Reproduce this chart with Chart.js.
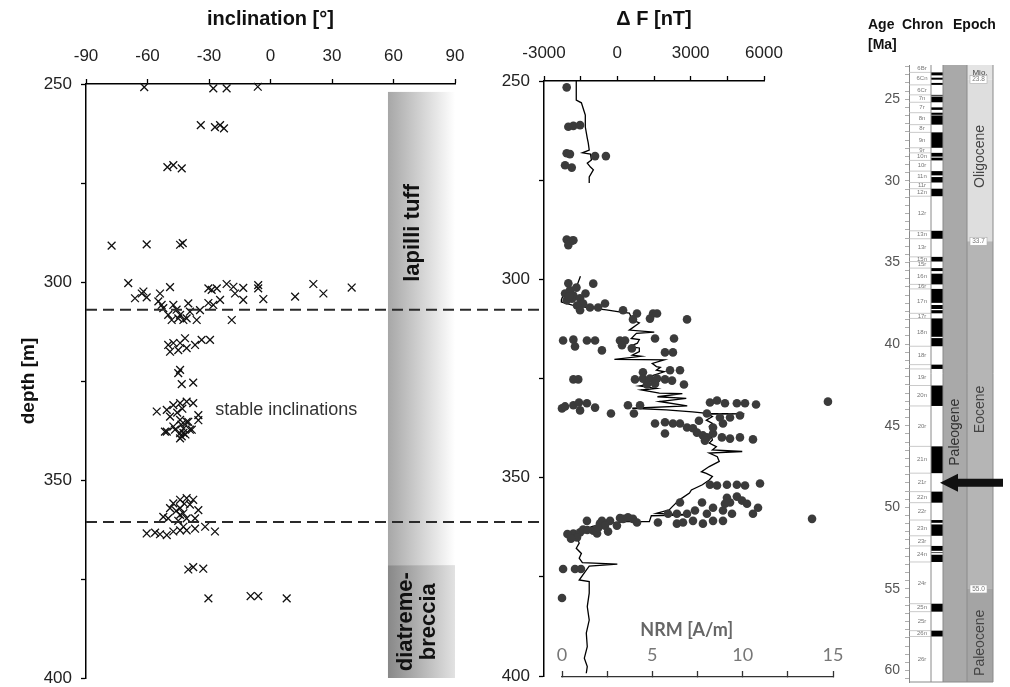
<!DOCTYPE html>
<html>
<head>
<meta charset="utf-8">
<title>Inclination, magnetics and timescale</title>
<script src="https://cdn.jsdelivr.net/npm/chart.js@4.4.1/dist/chart.umd.min.js"></script>
<style>
  body { margin: 0; background: #fff; }
  #wrap { position: relative; width: 1010px; height: 687px; overflow: hidden; background: #fff; }
  #wrap canvas { position: absolute; top: 0; }
  .hdr { position: absolute; font: bold 14px "Liberation Sans", Arial, sans-serif; color: #111; }
</style>
</head>
<body>
<div id="wrap">
  <canvas id="incChart" width="560" height="690" style="left:0"></canvas>
  <canvas id="dfChart" width="330" height="690" style="left:470px"></canvas>
  <canvas id="nrmChart" width="320" height="690" style="left:540px"></canvas>
  <canvas id="ageChart" width="150" height="690" style="left:860px"></canvas>
  <div class="hdr" style="left:868px;top:16px">Age</div>
  <div class="hdr" style="left:902px;top:16px">Chron</div>
  <div class="hdr" style="left:953px;top:16px">Epoch</div>
  <div class="hdr" style="left:868px;top:36px">[Ma]</div>
</div>
<script>
// --- inclination of samples (left panel) ---
const incDepth = [250.8, 251.1, 251.1, 250.7, 260.4, 260.9, 260.4, 261.2, 271.0, 270.5, 271.3,
  290.8, 290.5, 290.6, 290.2, 300.3, 304.1, 302.9, 303.9, 302.4, 302.9, 301.3, 304.9, 305.8,
  301.6, 302.0, 301.6, 300.5, 301.2, 302.9, 301.5, 304.5, 300.8, 301.6, 304.3, 303.7, 300.5,
  302.9, 301.4, 304.5, 305.8, 305.3, 307.1, 309.6, 305.8, 307.0, 308.3, 309.6, 309.6, 305.4,
  307.5, 309.6, 309.2, 309.2, 308.3, 306.6, 315.9, 315.4, 317.6, 317.2, 314.2, 316.7, 315.9,
  314.6, 314.6, 315.4, 322.2, 323.0, 325.8, 325.4, 332.7, 332.3, 331.1, 330.6, 330.2, 330.6,
  333.6, 334.0, 334.8, 335.3, 337.8, 337.3, 338.1, 337.3, 339.5, 337.8, 336.5, 338.2, 337.0,
  337.3, 335.3, 334.9, 339.0, 332.0, 333.0, 336.0, 338.5, 355.0, 354.6, 355.0, 355.9, 357.1,
  357.1, 356.2, 357.6, 359.3, 359.7, 358.8, 359.7, 359.7, 358.4, 356.0, 357.8, 360.3, 363.5,
  363.3, 363.7, 363.9, 363.0, 361.8, 362.7, 362.3, 361.8, 363.0, 362.7, 372.6, 372.0, 372.4,
  379.9, 379.3, 379.3, 379.9];
const incValue = [-61.6, -27.9, -21.4, -6.2, -34.0, -27.1, -24.6, -22.7, -50.3, -47.4, -43.3,
  -77.5, -60.4, -44.1, -42.8, -69.4, -66.1, -62.8, -60.4, -62.0, -53.9, -49.0, -54.7, -53.1,
  -30.3, -28.7, -26.2, -21.4, -18.1, -17.3, -13.3, -13.3, -6.0, -6.0, -3.5, 12.0, 20.9,
  25.8, 39.6, -24.6, -27.9, -30.3, -34.4, -18.9, -47.4, -45.8, -44.1, -48.2, -42.5, -40.1,
  -39.3, -36.0, -40.9, -45.0, -49.9, -52.3, -49.9, -47.4, -49.0, -45.0, -41.7, -40.9, -36.8,
  -33.6, -29.5, -44.1, -44.1, -45.0, -43.3, -37.7, -55.5, -50.6, -47.4, -44.1, -40.9, -37.7,
  -35.2, -49.0, -44.1, -40.1, -51.5, -46.6, -42.5, -39.3, -44.1, -50.6, -47.4, -44.1, -42.5,
  -38.4, -40.9, -35.2, -43.3, -43.0, -45.5, -43.5, -41.5, -44.1, -40.9, -37.7, -47.4, -49.0,
  -44.1, -39.3, -35.2, -52.3, -49.9, -44.1, -40.9, -36.8, -42.5, -42.0, -46.0, -45.0, -60.4,
  -56.3, -53.9, -50.6, -47.4, -42.5, -40.9, -36.8, -31.9, -27.1, -44.1, -40.1, -37.7, -32.8,
  -30.3, -9.7, -6.0, 7.9];

// --- borehole magnetic log ΔF (middle panel, line) ---
const dfDepth = [250.0, 254.8, 255.5, 257.8, 258.6, 261.6, 264.4, 265.6, 267.4, 268.1, 268.4,
  269.9, 270.7, 271.7, 272.4, 274.2, 275.7, 287.0,
  299.2, 301.4, 303.2, 305.2, 305.7, 306.5, 307.2, 307.7, 308.2, 308.5, 310.2, 311.0, 312.8,
  313.3, 313.6, 314.9, 315.2, 316.1, 317.0, 317.3, 318.2, 319.1, 319.4, 320.2, 320.3, 321.2,
  322.0, 322.2, 322.9, 323.3, 324.5, 325.4, 326.2, 326.9, 327.5, 327.9, 328.7, 328.8, 329.6,
  330.0, 330.8, 331.9, 332.5, 332.9, 333.4, 333.8, 333.9, 334.0, 334.6, 335.5, 336.3, 337.1,
  338.8, 339.6, 340.5, 341.3, 342.2, 343.0, 343.4, 343.8, 344.7, 345.9, 347.2, 348.5, 348.9,
  349.7, 350.6, 351.8, 353.1, 353.9, 355.6, 357.3, 358.1, 359.0, 359.4, 359.6, 361.1, 361.1,
  361.5, 362.3, 363.6, 364.4, 365.3, 366.5, 367.8, 369.1, 370.3, 371.4, 371.8, 372.3, 373.3,
  375.8, 376.2, 379.1, 382.5, 385.9, 389.2, 392.6, 395.5, 397.6, 399.3];
const dfValue = [-1680, -1680, -1470, -1350, -1310, -1310, -1230, -1190, -1150, -1430, -1100,
  -1060, -1230, -1100, -980, -1150, -1150, null,
  -1510, -1640, -2170, -2290, -2290, -1840, -1150, -450, 80, 490, 610, 900, 490,
  1510, 780, 570, 900, 820, 490, 900, 900, 610, 980, -120, 1920, 1430,
  1600, 1760, 1600, 1920, 1310, 1720, 1600, 900, 1600, 980, 1720, 2660, 1640,
  2820, 1720, 2860, 610, 2000, 3070, 3680, 5200, 3700, 3890, 3640, 3890, 3760,
  3890, 3850, 3890, 3760, 4050, 3890, 5110, 3760, 4090, 4170, 3760, 3440, 3640,
  3890, 3760, 3480, 3030, 2950, 2540, 2250, 2130, 1600, 2950, 1390, 1310, 370,
  -450, -1020, -1560, -1680, -1640, -1560, -1680, -1470, -1560, -1430, 0, -1150, -1270,
  -1560, -1150, -1150, -1230, -1150, -1270, -1230, -1350, -1230, -1270];

// --- NRM intensity of samples (middle panel, dots) ---
const nrmDepth = [251.6, 261.5, 261.3, 261.1, 268.2, 268.4, 268.9, 268.9, 271.2, 271.8, 289.9,
  290.2, 291.3, 290.1, 300.9, 302.7, 303.5, 304.0, 304.8, 305.2, 304.7, 306.0, 301.0, 306.5,
  307.0, 307.7, 307.0, 306.0, 307.7, 308.5, 310.0, 308.5, 309.8, 308.5, 310.0, 302.0, 303.5,
  304.2, 315.3, 315.1, 316.8, 315.3, 315.3, 317.8, 315.3, 315.3, 316.5, 317.3, 314.8, 318.3,
  318.3, 314.8, 323.3, 322.8, 322.8, 325.1, 325.1, 325.1, 324.9, 324.9, 324.9, 325.1, 325.4,
  326.4, 326.2, 326.4, 332.4, 331.9, 331.6, 330.9, 331.1, 332.9, 332.2, 333.7, 331.6, 333.7,
  331.6, 330.9, 330.4, 331.1, 331.1, 331.1, 331.4, 330.7, 333.7, 334.7, 334.7, 334.2, 336.2,
  335.9, 336.2, 336.2, 337.2, 338.7, 337.4, 338.5, 339.2, 339.7, 338.7, 339.7, 340.0, 339.7,
  340.2, 340.5, 337.2, 335.5, 336.2, 351.6, 351.8, 351.6, 351.6, 351.8, 351.3, 354.9, 354.6,
  355.6, 356.1, 357.4, 358.9, 358.9, 358.1, 357.4, 356.1, 358.1, 358.9, 356.1, 358.9, 358.9,
  358.9, 360.2, 360.2, 360.2, 360.0, 360.7, 360.7, 360.7, 361.1, 356.4, 356.4, 361.4, 361.1,
  359.8, 361.4, 361.1, 360.7, 361.4, 360.7, 360.7, 363.9, 363.6, 364.4, 364.9, 362.9, 363.2,
  363.9, 363.4, 361.9, 361.9, 364.0, 365.2, 363.0, 362.5, 372.8, 372.8, 372.8, 380.1];
const nrmValue = [0.26, 0.35, 0.63, 1.00, 0.26, 0.44, 1.83, 2.43, 0.17, 0.54, 0.26,
  0.54, 0.35, 0.63, 0.35, 0.44, 0.17, 0.63, 0.55, 0.26, 1.00, 1.17, 1.73, 0.83,
  1.55, 1.00, 2.00, 2.38, 3.38, 4.15, 3.93, 5.04, 4.87, 5.26, 6.92, 0.80, 1.30,
  0.40, 0.06, 0.63, 0.72, 1.38, 1.83, 2.21, 3.21, 3.49, 3.32, 3.87, 5.15, 5.70,
  6.14, 6.20, 4.48, 5.98, 6.53, 0.63, 0.90, 4.04, 4.48, 4.87, 5.26, 5.70, 6.09,
  6.75, 5.15, 4.70, 0.00, 0.17, 0.63, 0.94, 1.38, 1.00, 1.83, 2.71, 3.65, 3.98,
  4.32, 8.19, 8.58, 9.02, 9.68, 10.13, 10.74, 14.72, 8.02, 8.74, 9.30, 9.85, 5.15,
  5.70, 6.14, 6.53, 6.92, 5.70, 7.25, 7.47, 7.80, 8.02, 8.36, 8.85, 9.30, 9.85,
  10.57, 7.91, 8.36, 7.58, 8.91, 8.19, 8.58, 9.13, 9.68, 10.13, 10.96, 9.13, 9.68,
  9.96, 9.30, 10.85, 10.57, 9.41, 8.91, 8.36, 7.75, 7.36, 8.02, 6.53, 6.92, 6.36,
  5.87, 13.84, 3.93, 3.38, 3.21, 2.66, 2.21, 1.38, 5.31, 9.02, 10.24, 2.10, 4.15,
  3.65, 6.36, 6.70, 7.25, 7.80, 8.36, 8.91, 0.63, 1.00, 0.44, 0.83, 1.17, 1.73,
  1.94, 2.55, 2.38, 3.04, 0.30, 0.50, 1.40, 2.00, 0.06, 0.72, 1.05, 0.00];

// --- units ---
const boundaryDepths = [307.0, 360.6];
const lithNames = ['lapilli tuff', 'diatreme-|breccia'];
const lithTop = [252.0, 371.5];
const lithBase = [371.5, 400.0];

// --- tick labels ---
const depthTicks = [250, 300, 350, 400];
const incTicks = [-90, -60, -30, 0, 30, 60, 90];
const dfTicks = [-3000, 0, 3000, 6000];
const nrmTicks = [0, 5, 10, 15];
const ageLabels = [25, 30, 35, 40, 45, 50, 55, 60];

// --- geomagnetic polarity timescale (Ma) ---
const normalTop = [23.353, 23.677, 23.999, 24.730, 24.835, 25.496, 25.823, 25.992, 27.027, 28.283,
  28.578, 29.401, 29.765, 30.479, 33.058, 34.655, 35.343, 35.685, 36.618, 37.604, 37.920, 38.426,
  39.631, 41.257, 42.536, 46.264, 49.037, 50.778, 51.047, 52.364, 52.757, 52.903, 55.904, 57.554];
const normalBase = [23.535, 23.800, 24.118, 24.781, 25.183, 25.648, 25.951, 26.554, 27.972, 28.512,
  28.745, 29.662, 30.098, 30.939, 33.545, 34.940, 35.526, 36.341, 37.473, 37.848, 38.113, 39.552,
  40.130, 41.521, 43.789, 47.906, 49.714, 50.946, 51.743, 52.663, 52.801, 53.347, 56.391, 57.911];
const chronNames = ['6Br', '6Cn', '6Cr', '7n', '7r', '8n', '8r', '9n', '9r', '10n', '10r', '11n', '11r',
  '12n', '12r', '13n', '13r', '15n', '15r', '16n', '16r', '17n', '17r', '18n', '18r', '19n', '19r',
  '20n', '20r', '21n', '21r', '22n', '22r', '23n', '23r', '24n', '24r', '25n', '25r', '26n', '26r'];
const chronTop = [22.9, 23.353, 24.118, 24.730, 25.183, 25.823, 26.554, 27.027, 27.972, 28.283,
  28.745, 29.401, 30.098, 30.479, 30.939, 33.058, 33.545, 34.655, 34.940, 35.343, 36.341, 36.618,
  38.113, 38.426, 40.130, 41.257, 41.521, 42.536, 43.789, 46.264, 47.906, 49.037, 49.714, 50.778,
  51.743, 52.364, 53.347, 55.904, 56.391, 57.554, 57.911];
const chronBase = chronTop.slice(1).concat([60.7]);
const epochNames = ['Mio.', 'Oligocene', 'Eocene', 'Paleocene'];
const epochTop = [22.9, 23.8, 33.7, 55.0];
const epochBase = [23.8, 33.7, 55.0, 60.7];
const epochBoundaries = [23.8, 33.7, 55.0];
const periodName = 'Paleogene';
const arrowAge = 48.5;

// ---------------------------------------------------------------
const FONT = '"Liberation Sans", Arial, sans-serif';
Chart.defaults.font.family = FONT;
Chart.defaults.color = '#222';

// fix axis box sizes so the plot areas line up across the canvases
const fixBox = (w, h) => s => {
  if (w != null) s.width = w;
  if (h != null) s.height = h;
  s.paddingTop = s.paddingBottom = s.paddingLeft = s.paddingRight = 0;
};
const onlyIn = list => v => list.includes(v) ? String(v) : '';

const depthAxis = (width) => ({
  type: 'linear', position: 'left', reverse: true, min: 250, max: 400,
  afterFit: fixBox(width, null),
  ticks: { stepSize: 25, autoSkip: false, font: { size: 17 }, padding: 9, color: '#222', callback: onlyIn(depthTicks) },
  grid: { drawOnChartArea: false, drawTicks: true, tickLength: 5, tickColor: '#000', tickWidth: 1.3 },
  border: { color: '#000', width: 1.5 }
});

// ---------- left panel ----------
const incDecor = {
  id: 'incDecor',
  beforeDatasetsDraw(chart) {
    const { ctx, scales: { x, y } } = chart;
    const x0 = x.getPixelForValue(57.3), x1 = x.getPixelForValue(90);
    const shades = [['#a7a7a7', '#ffffff'], ['#888888', '#e2e2e2']];
    const labelDepth = [287.6, 385.8];
    const labelOffset = [25, 29];
    ctx.save();
    lithNames.forEach((name, i) => {
      const y0 = y.getPixelForValue(lithTop[i]), y1 = y.getPixelForValue(lithBase[i]);
      const g = ctx.createLinearGradient(x0, 0, x1, 0);
      g.addColorStop(0, shades[i][0]);
      g.addColorStop(1, shades[i][1]);
      ctx.fillStyle = g;
      ctx.fillRect(x0, y0, x1 - x0, y1 - y0);
      const lines = name.split('|');
      ctx.save();
      ctx.translate(x0 + labelOffset[i], y.getPixelForValue(labelDepth[i]));
      ctx.rotate(-Math.PI / 2);
      ctx.font = 'bold 22px ' + FONT;
      ctx.fillStyle = '#111';
      ctx.textAlign = 'center';
      ctx.textBaseline = 'middle';
      lines.forEach((l, k) => ctx.fillText(l, 0, (k - (lines.length - 1) / 2) * 23));
      ctx.restore();
    });
    ctx.font = '18px ' + FONT;
    ctx.fillStyle = '#333';
    ctx.textAlign = 'left';
    ctx.textBaseline = 'middle';
    ctx.fillText('stable inclinations', x.getPixelForValue(-27), y.getPixelForValue(332.4));
    ctx.restore();
  },
  afterDatasetsDraw(chart) {
    const { ctx, scales: { x, y } } = chart;
    ctx.save();
    ctx.strokeStyle = '#2a2a2a';
    ctx.lineWidth = 2;
    ctx.setLineDash([11, 6]);
    boundaryDepths.forEach(d => {
      const py = y.getPixelForValue(d);
      ctx.beginPath();
      ctx.moveTo(x.getPixelForValue(-90), py);
      ctx.lineTo(544, py);
      ctx.stroke();
    });
    ctx.restore();
  }
};

new Chart(document.getElementById('incChart'), {
  type: 'scatter',
  data: {
    datasets: [{
      data: incDepth.map((d, i) => ({ x: incValue[i], y: d })),
      pointStyle: 'crossRot', pointRadius: 5.5, borderColor: '#111', borderWidth: 1.3,
      clip: false
    }]
  },
  options: {
    responsive: false, animation: false,
    layout: { padding: { left: 0, top: 0, right: 105, bottom: 12 } },
    plugins: { legend: { display: false }, tooltip: { enabled: false } },
    scales: {
      x: {
        type: 'linear', position: 'top', min: -90, max: 90,
        afterFit: fixBox(null, 84),
        ticks: { stepSize: 30, maxRotation: 0, minRotation: 0, font: { size: 17 }, padding: 12, color: '#222', callback: onlyIn(incTicks) },
        grid: { drawOnChartArea: false, drawTicks: true, tickLength: 5, tickColor: '#000', tickWidth: 1.3 },
        border: { color: '#000', width: 1.5 },
        title: { display: true, text: 'inclination [°]', font: { size: 20, weight: 'bold' }, color: '#111', padding: { top: 7, bottom: 0 } }
      },
      y: Object.assign(depthAxis(86), {
        title: { display: true, text: 'depth [m]', font: { size: 19, weight: 'bold' }, color: '#111', padding: { top: 17, bottom: 0 } }
      })
    }
  },
  plugins: [incDecor]
});

// ---------- middle panel: ΔF log ----------
new Chart(document.getElementById('dfChart'), {
  type: 'scatter',
  data: {
    datasets: [{
      data: dfDepth.map((d, i) => ({ x: dfValue[i], y: dfValue[i] === null ? null : d })),
      showLine: true, spanGaps: false, borderColor: '#000', borderWidth: 1.3,
      pointRadius: 0, tension: 0
    }]
  },
  options: {
    responsive: false, animation: false,
    layout: { padding: { left: 0, top: 0, right: 36, bottom: 14 } },
    plugins: { legend: { display: false }, tooltip: { enabled: false } },
    scales: {
      x: {
        type: 'linear', position: 'top', min: -3000, max: 6000,
        afterFit: fixBox(null, 81),
        ticks: { stepSize: 1500, autoSkip: false, maxRotation: 0, minRotation: 0, font: { size: 17 }, padding: 12, color: '#222', callback: onlyIn(dfTicks) },
        grid: { drawOnChartArea: false, drawTicks: true, tickLength: 5, tickColor: '#000', tickWidth: 1.3 },
        border: { color: '#000', width: 1.5 },
        title: { display: true, text: 'Δ F [nT]', font: { size: 20, weight: 'bold' }, color: '#111', padding: { top: 7, bottom: 0 } }
      },
      y: depthAxis(74)
    }
  }
});

// ---------- middle panel: NRM samples ----------
const nrmTitle = {
  id: 'nrmTitle',
  afterDraw(chart) {
    const { ctx, chartArea, scales: { x } } = chart;
    ctx.save();
    ctx.font = 'bold 18px Lato, ' + FONT;
    ctx.fillStyle = '#666';
    ctx.textAlign = 'center';
    ctx.textBaseline = 'middle';
    ctx.fillText('NRM [A/m]', x.getPixelForValue(6.9), chartArea.bottom - 47);
    ctx.restore();
  }
};

new Chart(document.getElementById('nrmChart'), {
  type: 'scatter',
  data: {
    datasets: [{
      data: nrmDepth.map((d, i) => ({ x: nrmValue[i], y: d })),
      pointRadius: 4.3, backgroundColor: '#3b3b3b', borderWidth: 0, clip: false
    }]
  },
  options: {
    responsive: false, animation: false,
    layout: { padding: { left: 22, top: 81, right: 27, bottom: 13 } },
    plugins: { legend: { display: false }, tooltip: { enabled: false } },
    scales: {
      x: {
        type: 'linear', position: 'bottom', min: 0, max: 15,
        afterFit: fixBox(null, 0),
        // labels sit above the axis line, as in the figure
        ticks: { stepSize: 2.5, autoSkip: false, maxRotation: 0, minRotation: 0, mirror: true, font: { family: 'Lato, ' + FONT, size: 18 }, padding: 11, color: '#777', callback: onlyIn(nrmTicks) },
        grid: { drawOnChartArea: false, drawTicks: true, tickLength: -6, tickColor: '#333', tickWidth: 1.3 },
        border: { color: '#333', width: 1.3 }
      },
      y: { type: 'linear', display: false, reverse: true, min: 250, max: 400 }
    }
  },
  plugins: [nrmTitle]
});

// ---------- right panel: timescale ----------
const COL_LABEL = [0, 22], COL_POL = [22, 34], COL_PERIOD = [34, 58], COL_EPOCH = [58, 84];

const tsDecor = {
  id: 'tsDecor',
  beforeDatasetsDraw(chart) {
    const { ctx, scales: { x, y } } = chart;
    const X = v => x.getPixelForValue(v), Y = v => y.getPixelForValue(v);
    const yTop = Y(22.9), yBot = Y(60.7);
    const rotText = (t, cx, cy, size, color) => {
      ctx.save();
      ctx.translate(cx, cy);
      ctx.rotate(-Math.PI / 2);
      ctx.font = size + 'px ' + FONT;
      ctx.fillStyle = color;
      ctx.textAlign = 'center';
      ctx.textBaseline = 'middle';
      ctx.fillText(t, 0, 0);
      ctx.restore();
    };
    ctx.save();
    // period column
    ctx.fillStyle = '#a9a9a9';
    ctx.fillRect(X(COL_PERIOD[0]), yTop, X(COL_PERIOD[1]) - X(COL_PERIOD[0]), yBot - yTop);
    // epochs
    const epochFill = ['#e4e4e4', '#dedede', '#b5b5b5', '#a4a4a4'];
    epochNames.forEach((n, i) => {
      ctx.fillStyle = epochFill[i];
      ctx.fillRect(X(COL_EPOCH[0]), Y(epochTop[i]), X(COL_EPOCH[1]) - X(COL_EPOCH[0]), Y(epochBase[i]) - Y(epochTop[i]));
    });
    // polarity column
    ctx.fillStyle = '#000';
    normalTop.forEach((t, i) => {
      ctx.fillRect(X(COL_POL[0]), Y(t), X(COL_POL[1]) - X(COL_POL[0]), Y(normalBase[i]) - Y(t));
    });
    // chron boundaries + names
    ctx.strokeStyle = '#bdbdbd';
    ctx.lineWidth = 0.8;
    chronTop.forEach((t, i) => {
      if (i === 0) return;
      ctx.beginPath();
      ctx.moveTo(X(COL_LABEL[0]), Y(t));
      ctx.lineTo(X(COL_LABEL[1]), Y(t));
      ctx.stroke();
    });
    ctx.font = '6px ' + FONT;
    ctx.fillStyle = '#777';
    ctx.textAlign = 'center';
    ctx.textBaseline = 'middle';
    chronNames.forEach((n, i) => {
      const h = Y(chronBase[i]) - Y(chronTop[i]);
      if (h >= 4.5) ctx.fillText(n, X((COL_LABEL[0] + COL_LABEL[1]) / 2) + 2, Y((chronTop[i] + chronBase[i]) / 2));
    });
    // column outlines
    ctx.strokeStyle = '#8a8a8a';
    ctx.lineWidth = 1;
    [COL_LABEL[1], COL_POL[1], COL_PERIOD[1], COL_EPOCH[1]].forEach(v => {
      ctx.beginPath();
      ctx.moveTo(X(v), yTop);
      ctx.lineTo(X(v), yBot);
      ctx.stroke();
    });
    ctx.beginPath();
    ctx.moveTo(X(COL_LABEL[0]), yBot);
    ctx.lineTo(X(COL_EPOCH[1]), yBot);
    ctx.stroke();
    // names
    const cPeriod = X((COL_PERIOD[0] + COL_PERIOD[1]) / 2);
    const cEpoch = X((COL_EPOCH[0] + COL_EPOCH[1]) / 2);
    rotText(periodName, cPeriod, Y(45.4), 14, '#333');
    const epochLabelAge = [23.35, 28.5, 44.0, 58.3];
    epochNames.forEach((n, i) => {
      if (i === 0) {
        ctx.font = '8px ' + FONT;
        ctx.fillStyle = '#444';
        ctx.textAlign = 'center';
        ctx.fillText(n, cEpoch, Y(epochLabelAge[i]));
      } else {
        rotText(n, cEpoch, Y(epochLabelAge[i]), 14, '#444');
      }
    });
    // boundary age tags
    ctx.font = '6.5px ' + FONT;
    epochBoundaries.forEach(a => {
      const bx0 = X(COL_EPOCH[0]) + 3, bx1 = X(COL_EPOCH[1]) - 6;
      ctx.fillStyle = '#fff';
      ctx.fillRect(bx0, Y(a) - 4, bx1 - bx0, 8);
      ctx.strokeStyle = '#aaa';
      ctx.lineWidth = 0.6;
      ctx.strokeRect(bx0, Y(a) - 4, bx1 - bx0, 8);
      ctx.fillStyle = '#777';
      ctx.textAlign = 'center';
      ctx.fillText(a.toFixed(1), (bx0 + bx1) / 2, Y(a));
    });
    // arrow marking the age of the maar
    const ay = Y(arrowAge), tip = X(COL_POL[0]) + 9, tail = X(COL_EPOCH[1]) + 10;
    ctx.fillStyle = '#111';
    ctx.beginPath();
    ctx.moveTo(tip, ay);
    ctx.lineTo(tip + 18, ay - 9);
    ctx.lineTo(tip + 18, ay - 4);
    ctx.lineTo(tail, ay - 4);
    ctx.lineTo(tail, ay + 4);
    ctx.lineTo(tip + 18, ay + 4);
    ctx.lineTo(tip + 18, ay + 9);
    ctx.closePath();
    ctx.fill();
    ctx.restore();
  }
};

new Chart(document.getElementById('ageChart'), {
  type: 'scatter',
  data: { datasets: [] },
  options: {
    responsive: false, animation: false,
    layout: { padding: { left: 0, top: 65, right: 17, bottom: 8 } },
    plugins: { legend: { display: false }, tooltip: { enabled: false } },
    scales: {
      x: { type: 'linear', display: false, min: 0, max: 84 },
      y: {
        type: 'linear', position: 'left', reverse: true, min: 22.9, max: 60.7,
        afterFit: fixBox(49, null),
        afterBuildTicks: s => {
          const t = [];
          for (let v = 23; v <= 60.5; v += 0.5) t.push({ value: v });
          s.ticks = t;
        },
        ticks: { autoSkip: false, font: { size: 14 }, padding: 5, color: '#555', callback: onlyIn(ageLabels) },
        grid: { drawOnChartArea: false, drawTicks: true, tickLength: 4, tickColor: '#999', tickWidth: 0.8 },
        border: { color: '#888', width: 1 }
      }
    }
  },
  plugins: [tsDecor]
});
</script>
</body>
</html>
